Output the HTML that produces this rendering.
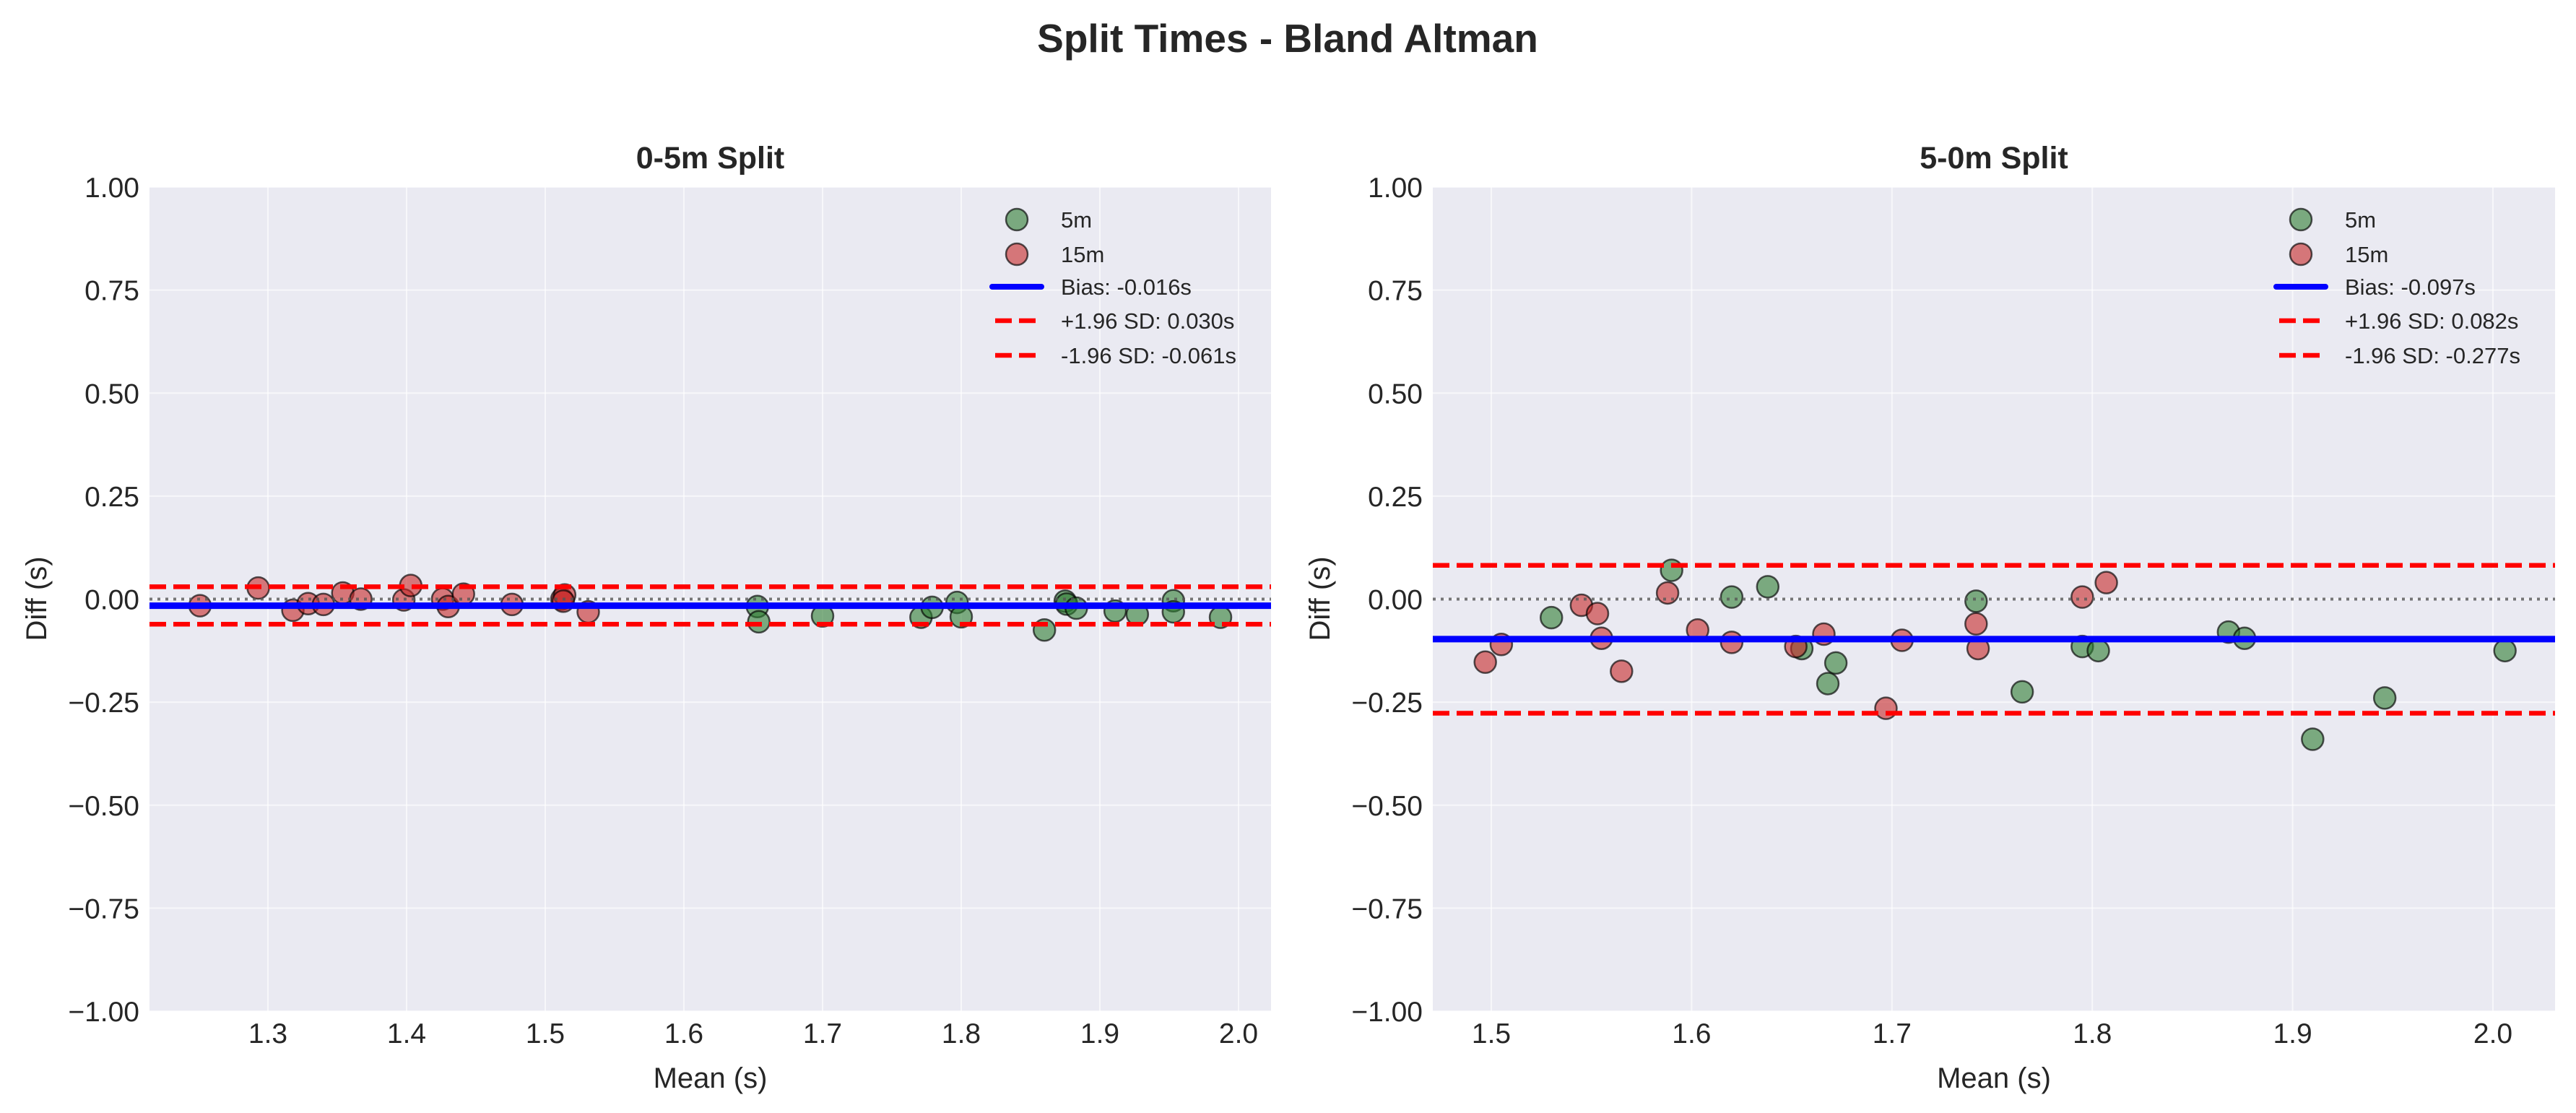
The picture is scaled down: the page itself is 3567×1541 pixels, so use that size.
<!DOCTYPE html>
<html><head><meta charset="utf-8"><style>
html,body{margin:0;padding:0;background:#fff}
svg{display:block}
text{font-family:"Liberation Sans",sans-serif;fill:#262626}
</style></head><body>
<svg id="s" width="3567" height="1541" viewBox="0 0 3567 1541" xmlns="http://www.w3.org/2000/svg">
<text x="1783" y="72" font-size="55" font-weight="bold" text-anchor="middle">Split Times - Bland Altman</text>
<g id="p1"></g><g id="p2"></g>
</svg>
<script>
const NS="http://www.w3.org/2000/svg";
function el(p,t,a,txt){const e=document.createElementNS(NS,t);for(const k in a)e.setAttribute(k,a[k]);if(txt!==undefined)e.textContent=txt;p.appendChild(e);return e;}
function panel(g,o){
 const L=o.L,R=o.R,T=259,B=1400;
 const X=m=>o.x0+(m-o.m0)*o.k, Y=v=>829.5-570.5*v;
 el(g,'rect',{x:L,y:T,width:R-L,height:B-T,fill:'#eaeaf2'});
 for(let v=-1;v<=1.001;v+=0.25){el(g,'line',{x1:L,x2:R,y1:Y(v),y2:Y(v),stroke:'#fff','stroke-opacity':0.6,'stroke-width':2});
  el(g,'text',{x:L-14,y:Y(v)+14,'font-size':39,'text-anchor':'end'},(v<0?'\u2212':'')+Math.abs(v).toFixed(2));}
 o.ticks.forEach(m=>{el(g,'line',{x1:X(m),x2:X(m),y1:T,y2:B,stroke:'#fff','stroke-opacity':0.6,'stroke-width':2});
  el(g,'text',{x:X(m),y:1444,'font-size':39,'text-anchor':'middle'},m.toFixed(1));});
 el(g,'text',{x:(L+R)/2,y:1506,'font-size':40,'text-anchor':'middle'},'Mean (s)');
 el(g,'text',{x:0,y:0,'font-size':40,'text-anchor':'middle',transform:`translate(${L-143},829) rotate(-90)`},'Diff (s)');
 el(g,'text',{x:(L+R)/2,y:233,'font-size':43,'font-weight':'bold','text-anchor':'middle'},o.title);
 const dot=(x,y,c)=>el(g,'circle',{cx:x,cy:y,r:15,fill:c,'fill-opacity':0.6,stroke:'#000','stroke-opacity':0.65,'stroke-width':2.5});
 o.g.forEach(p=>dot(X(p[0]),Y(p[1]),'#2e7d32'));
 o.r.forEach(p=>dot(X(p[0]),Y(p[1]),'#c62828'));
 el(g,'line',{x1:L,x2:R,y1:Y(0),y2:Y(0),stroke:'#555','stroke-opacity':0.8,'stroke-width':4,'stroke-dasharray':'4 7'});
 el(g,'line',{x1:L,x2:R,y1:Y(o.b),y2:Y(o.b),stroke:'#0000ff','stroke-width':9});
 [o.u,o.l].forEach(v=>el(g,'line',{x1:L,x2:R,y1:Y(v),y2:Y(v),stroke:'#ff0000','stroke-width':6.5,'stroke-dasharray':'23 10'}));
 const lx=o.lx;
 el(g,'circle',{cx:lx+36,cy:304,r:15,fill:'#2e7d32','fill-opacity':0.6,stroke:'#000','stroke-opacity':0.65,'stroke-width':2.5});
 el(g,'circle',{cx:lx+36,cy:352,r:15,fill:'#c62828','fill-opacity':0.6,stroke:'#000','stroke-opacity':0.65,'stroke-width':2.5});
 el(g,'line',{x1:lx+2,x2:lx+70,y1:397,y2:397,stroke:'#0000ff','stroke-width':8,'stroke-linecap':'round'});
 [444,492].forEach(y=>el(g,'line',{x1:lx+6,x2:lx+68,y1:y,y2:y,stroke:'#ff0000','stroke-width':6.5,'stroke-dasharray':'23 10'}));
 const tx=lx+97;
 [['5m',304],['15m',352],['Bias: '+o.bt,397],['+1.96 SD: '+o.ut,444],['-1.96 SD: '+o.lt,492]].forEach(a=>el(g,'text',{x:tx,y:a[1]+11,'font-size':31},a[0]));
}
panel(document.getElementById('p1'),{L:207,R:1760,x0:371,m0:1.3,k:1920,ticks:[1.3,1.4,1.5,1.6,1.7,1.8,1.9,2.0],title:'0-5m Split',
 b:-0.016,u:0.030,l:-0.061,bt:'-0.016s',ut:'0.030s',lt:'-0.061s',lx:1372,
 r:[[1.251,-0.016],[1.293,0.027],[1.318,-0.027],[1.329,-0.011],[1.340,-0.013],[1.354,0.015],[1.367,0.0],[1.398,-0.002],[1.403,0.033],[1.426,0.0],[1.430,-0.018],[1.441,0.012],[1.476,-0.013],[1.512,0.0],[1.514,0.01],[1.513,-0.005],[1.531,-0.031]],
 g:[[1.653,-0.018],[1.654,-0.055],[1.70,-0.041],[1.771,-0.044],[1.779,-0.02],[1.797,-0.008],[1.800,-0.043],[1.860,-0.075],[1.875,-0.005],[1.876,-0.012],[1.883,-0.022],[1.911,-0.029],[1.927,-0.037],[1.953,-0.004],[1.953,-0.031],[1.987,-0.044]]});
panel(document.getElementById('p2'),{L:1984,R:3538,x0:2065,m0:1.5,k:2774,ticks:[1.5,1.6,1.7,1.8,1.9,2.0],title:'5-0m Split',
 b:-0.097,u:0.082,l:-0.277,bt:'-0.097s',ut:'0.082s',lt:'-0.277s',lx:3150,
 r:[[1.497,-0.153],[1.505,-0.11],[1.545,-0.015],[1.553,-0.035],[1.555,-0.095],[1.565,-0.175],[1.588,0.015],[1.603,-0.075],[1.62,-0.105],[1.652,-0.115],[1.666,-0.085],[1.697,-0.265],[1.705,-0.1],[1.742,-0.06],[1.743,-0.12],[1.795,0.005],[1.807,0.04]],
 g:[[1.53,-0.045],[1.59,0.07],[1.62,0.005],[1.638,0.03],[1.655,-0.12],[1.668,-0.205],[1.672,-0.155],[1.742,-0.005],[1.765,-0.225],[1.795,-0.115],[1.803,-0.125],[1.868,-0.08],[1.876,-0.095],[1.91,-0.34],[1.946,-0.24],[2.006,-0.125]]});
</script>
</body></html>
